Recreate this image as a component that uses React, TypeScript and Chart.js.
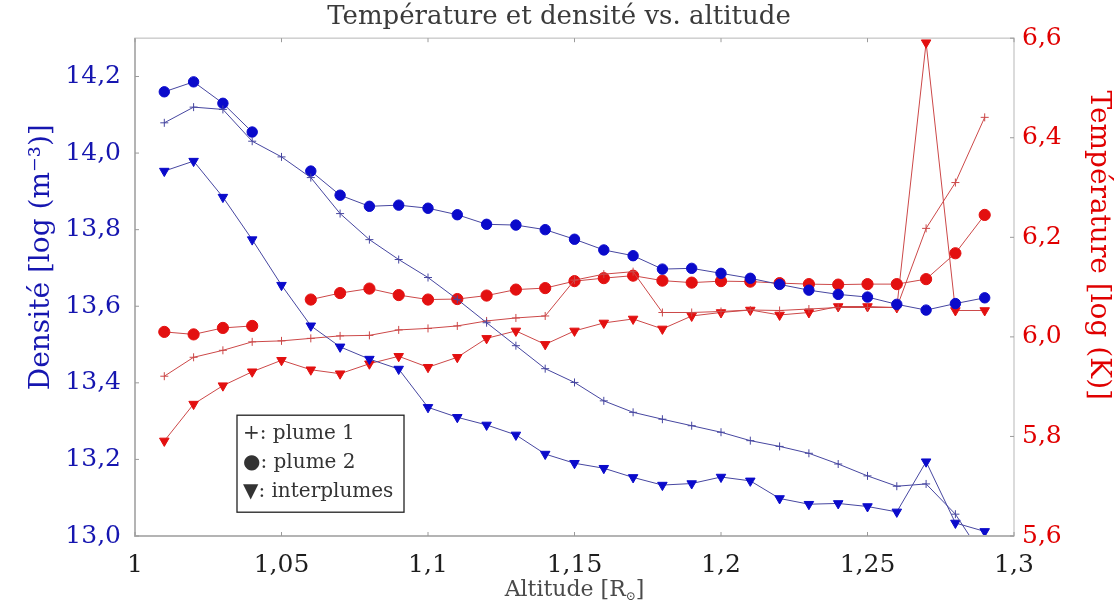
import React, { useEffect, useRef } from 'react';
import { Chart, registerables } from 'chart.js';

Chart.register(...registerables);

const altitudes = [
  1.01, 1.02, 1.03, 1.04, 1.05, 1.06, 1.07, 1.08, 1.09, 1.1,
  1.11, 1.12, 1.13, 1.14, 1.15, 1.16, 1.17, 1.18, 1.19, 1.2,
  1.21, 1.22, 1.23, 1.24, 1.25, 1.26, 1.27, 1.28, 1.29,
];

const densityPlume1 = [
  14.079, 14.12, 14.114, 14.031, 13.99, 13.936, 13.842, 13.774, 13.722, 13.675,
  13.618, 13.557, 13.497, 13.437, 13.401, 13.353, 13.323, 13.305, 13.288, 13.271,
  13.249, 13.234, 13.216, 13.188, 13.157, 13.13, 13.136, 13.057, 12.94,
];
const densityPlume2 = [
  14.16, 14.186, 14.13, 14.055, null, 13.953, 13.89, 13.861, 13.864, 13.856,
  13.839, 13.814, 13.812, 13.8, 13.775, 13.747, 13.732, 13.697, 13.699, 13.686,
  13.673, 13.657, 13.642, 13.631, 13.624, 13.605, 13.59, 13.607, 13.622,
];
const densityInterplumes = [
  13.953, 13.979, 13.885, 13.774, 13.655, 13.549, 13.494, 13.462, 13.436, 13.336,
  13.31, 13.29, 13.264, 13.214, 13.19, 13.177, 13.153, 13.133, 13.137, 13.154,
  13.144, 13.098, 13.083, 13.085, 13.077, 13.063, 13.194, 13.034, 13.012,
];

const tempPlume1 = [
  5.921, 5.959, 5.973, 5.99, 5.992, 5.997, 6.002, 6.003, 6.014, 6.017,
  6.022, 6.032, 6.038, 6.042, 6.114, 6.126, 6.131, 6.049, 6.049, 6.051,
  6.054, 6.053, 6.056, 6.059, 6.059, 6.059, 6.218, 6.31, 6.441,
];
const tempPlume2 = [
  6.01, 6.005, 6.018, 6.022, null, 6.075, 6.088, 6.097, 6.084, 6.075,
  6.076, 6.083, 6.095, 6.098, 6.112, 6.118, 6.123, 6.113, 6.109, 6.112,
  6.111, 6.108, 6.106, 6.105, 6.106, 6.106, 6.116, 6.168, 6.245,
];
const tempInterplumes = [
  5.791, 5.865, 5.902, 5.93, 5.953, 5.934, 5.926, 5.946, 5.961, 5.939,
  5.959, 5.997, 6.012, 5.985, 6.012, 6.028, 6.036, 6.016, 6.042, 6.049,
  6.054, 6.044, 6.049, 6.061, 6.061, 6.059, 6.591, 6.053, 6.053,
];

const xTickValues = [1, 1.05, 1.1, 1.15, 1.2, 1.25, 1.3];
const xTickLabels = ['1', '1,05', '1,1', '1,15', '1,2', '1,25', '1,3'];
const densityTickValues = [13.0, 13.2, 13.4, 13.6, 13.8, 14.0, 14.2];
const densityTickLabels = ['13,0', '13,2', '13,4', '13,6', '13,8', '14,0', '14,2'];
const tempTickValues = [5.6, 5.8, 6.0, 6.2, 6.4, 6.6];
const tempTickLabels = ['5,6', '5,8', '6,0', '6,2', '6,4', '6,6'];

const legendLines = ['+: plume 1', '\u25CF: plume 2', '\u25BC: interplumes'];

const chartTitle = 'Température et densité vs. altitude';
const densityTitle = 'Densité [log (m\u207B\u00B3)]';
const tempTitle = 'Température [log (K)]';
const altitudeTitle = 'Altitude [R';
const altitudeSub = '\u2299';

const SERIF = "'DejaVu Serif', serif";
const BLUE = '#0a0acb';
const BLUE_LINE = '#4646a0';
const RED = '#e31010';
const RED_LINE = '#cc4848';
const BLUE_TEXT = '#1616b0';
const RED_TEXT = '#e00000';

const toPoints = (ys: (number | null)[]) => altitudes.map((x, i) => ({ x, y: ys[i] }));

const framePlugin = {
  id: 'frameAndLegend',
  afterDraw(chart: any) {
    const { ctx, chartArea } = chart;
    const { left, right, top, bottom } = chartArea;
    ctx.save();
    // frame
    ctx.strokeStyle = '#cfcfcf';
    ctx.lineWidth = 1.5;
    ctx.strokeRect(left, top, right - left, bottom - top);
    ctx.strokeStyle = '#b4b4b4';
    ctx.lineWidth = 2;
    ctx.beginPath();
    ctx.moveTo(left, top);
    ctx.lineTo(left, bottom);
    ctx.lineTo(right, bottom);
    ctx.stroke();
    // inner tick marks
    ctx.strokeStyle = '#9a9a9a';
    ctx.lineWidth = 1;
    const xs = chart.scales.x;
    xs.ticks.forEach((t: any) => {
      const px = xs.getPixelForValue(t.value);
      ctx.beginPath();
      ctx.moveTo(px, bottom);
      ctx.lineTo(px, bottom - 4);
      ctx.moveTo(px, top);
      ctx.lineTo(px, top + 4);
      ctx.stroke();
    });
    const yl = chart.scales.y;
    yl.ticks.forEach((t: any) => {
      const py = yl.getPixelForValue(t.value);
      ctx.beginPath();
      ctx.moveTo(left, py);
      ctx.lineTo(left + 4, py);
      ctx.stroke();
    });
    const yr = chart.scales.y1;
    yr.ticks.forEach((t: any) => {
      const py = yr.getPixelForValue(t.value);
      ctx.beginPath();
      ctx.moveTo(right, py);
      ctx.lineTo(right - 4, py);
      ctx.stroke();
    });

    // y axis titles
    ctx.textAlign = 'center';
    ctx.textBaseline = 'middle';
    ctx.font = `28px ${SERIF}`;
    ctx.save();
    ctx.translate(left - 93, top + 219);
    ctx.rotate(-Math.PI / 2);
    ctx.fillStyle = BLUE_TEXT;
    ctx.fillText(densityTitle, 0, 0);
    ctx.restore();
    ctx.save();
    ctx.translate(right + 84, top + 207);
    ctx.rotate(Math.PI / 2);
    ctx.fillStyle = RED_TEXT;
    ctx.fillText(tempTitle, 0, 0);
    ctx.restore();

    // x axis title with subscript
    ctx.fillStyle = '#4a4a4a';
    ctx.textBaseline = 'alphabetic';
    ctx.textAlign = 'left';
    const end = ']';
    ctx.font = `22px ${SERIF}`;
    const wMain = ctx.measureText(altitudeTitle).width;
    const wEnd = ctx.measureText(end).width;
    ctx.font = `12px ${SERIF}`;
    const wSub = ctx.measureText(altitudeSub).width;
    const total = wMain + wSub + wEnd;
    const cx = (left + right) / 2;
    let tx = cx - total / 2;
    const base = 596;
    ctx.font = `22px ${SERIF}`;
    ctx.fillText(altitudeTitle, tx, base);
    tx += wMain;
    ctx.font = `12px ${SERIF}`;
    ctx.fillText(altitudeSub, tx, base + 4);
    tx += wSub;
    ctx.font = `22px ${SERIF}`;
    ctx.fillText(end, tx, base);

    // legend box
    const bx = left + 102;
    const by = top + 377;
    const bw = 167;
    const bh = 97;
    ctx.fillStyle = '#ffffff';
    ctx.fillRect(bx, by, bw, bh);
    ctx.strokeStyle = '#222222';
    ctx.lineWidth = 1.3;
    ctx.strokeRect(bx, by, bw, bh);
    ctx.fillStyle = '#333333';
    ctx.font = `20px ${SERIF}`;
    ctx.textBaseline = 'middle';
    legendLines.forEach((txt, i) => {
      ctx.fillText(txt, bx + 6, by + 19 + i * 29);
    });
    ctx.restore();
  },
};

export default function App() {
  const canvasRef = useRef<HTMLCanvasElement | null>(null);

  useEffect(() => {
    document.body.style.margin = '0';
    const canvas = canvasRef.current;
    if (!canvas) return;

    const common = { showLine: true, spanGaps: false, fill: false, tension: 0 };

    const chart = new Chart(canvas, {
      type: 'line',
      data: {
        datasets: [
          {
            ...common,
            label: 'Densité plume 1',
            data: toPoints(densityPlume1),
            yAxisID: 'y',
            borderColor: BLUE_LINE,
            borderWidth: 1,
            pointStyle: 'cross',
            pointRadius: 4,
            pointBorderColor: BLUE_LINE,
            pointBorderWidth: 1,
          },
          {
            ...common,
            label: 'Densité plume 2',
            data: toPoints(densityPlume2),
            yAxisID: 'y',
            borderColor: BLUE_LINE,
            borderWidth: 1,
            pointStyle: 'circle',
            pointRadius: 5.2,
            pointBackgroundColor: BLUE,
            pointBorderColor: BLUE,
            pointBorderWidth: 1,
          },
          {
            ...common,
            label: 'Densité interplumes',
            data: toPoints(densityInterplumes),
            yAxisID: 'y',
            borderColor: BLUE_LINE,
            borderWidth: 1,
            pointStyle: 'triangle',
            rotation: 180,
            pointRadius: 5.5,
            pointBackgroundColor: BLUE,
            pointBorderColor: BLUE,
            pointBorderWidth: 1,
          },
          {
            ...common,
            label: 'Température plume 1',
            data: toPoints(tempPlume1),
            yAxisID: 'y1',
            borderColor: RED_LINE,
            borderWidth: 1,
            pointStyle: 'cross',
            pointRadius: 4,
            pointBorderColor: RED_LINE,
            pointBorderWidth: 1,
          },
          {
            ...common,
            label: 'Température plume 2',
            data: toPoints(tempPlume2),
            yAxisID: 'y1',
            borderColor: RED_LINE,
            borderWidth: 1,
            pointStyle: 'circle',
            pointRadius: 5.6,
            pointBackgroundColor: RED,
            pointBorderColor: RED,
            pointBorderWidth: 1,
          },
          {
            ...common,
            label: 'Température interplumes',
            data: toPoints(tempInterplumes),
            yAxisID: 'y1',
            borderColor: RED_LINE,
            borderWidth: 1,
            pointStyle: 'triangle',
            rotation: 180,
            pointRadius: 5.5,
            pointBackgroundColor: RED,
            pointBorderColor: RED,
            pointBorderWidth: 1,
          },
        ],
      },
      options: {
        responsive: false,
        animation: false,
        layout: { padding: 0 },
        plugins: {
          legend: { display: false },
          tooltip: { enabled: false },
          title: {
            display: true,
            text: chartTitle,
            color: '#3a3a3a',
            font: { family: SERIF, size: 26, weight: 'normal' },
            padding: { top: 2, bottom: 5 },
          },
        },
        scales: {
          x: {
            type: 'linear',
            min: 1,
            max: 1.3,
            afterBuildTicks: (scale: any) => {
              scale.ticks = xTickValues.map((v) => ({ value: v }));
            },
            afterFit: (scale: any) => {
              scale.height = 65;
            },
            grid: { display: false, drawTicks: false },
            border: { display: false },
            ticks: {
              color: '#1e1e1e',
              font: { family: SERIF, size: 25 },
              padding: 14,
              maxRotation: 0,
              autoSkip: false,
              callback: (_v: any, i: number) => xTickLabels[i],
            },
            title: { display: false, text: 'Altitude [R\u2299]' },
          },
          y: {
            type: 'linear',
            position: 'left',
            min: 13.0,
            max: 14.3,
            afterBuildTicks: (scale: any) => {
              scale.ticks = densityTickValues.map((v) => ({ value: v }));
            },
            afterFit: (scale: any) => {
              scale.width = 135;
            },
            grid: { display: false, drawTicks: false },
            border: { display: false },
            ticks: {
              color: BLUE_TEXT,
              font: { family: SERIF, size: 25 },
              padding: 14,
              autoSkip: false,
              callback: (_v: any, i: number) => densityTickLabels[i],
            },
            title: { display: false, text: densityTitle },
          },
          y1: {
            type: 'linear',
            position: 'right',
            min: 5.6,
            max: 6.6,
            afterBuildTicks: (scale: any) => {
              scale.ticks = tempTickValues.map((v) => ({ value: v }));
            },
            afterFit: (scale: any) => {
              scale.width = 104;
            },
            grid: { display: false, drawTicks: false },
            border: { display: false },
            ticks: {
              color: RED_TEXT,
              font: { family: SERIF, size: 25 },
              padding: 8,
              autoSkip: false,
              callback: (_v: any, i: number) => tempTickLabels[i],
            },
            title: { display: false, text: tempTitle },
          },
        },
      },
      plugins: [framePlugin],
    } as any);

    return () => {
      chart.destroy();
    };
  }, []);

  return (
    <div style={{ width: 1118, height: 601 }}>
      <canvas ref={canvasRef} width={1118} height={601} style={{ display: 'block' }} />
    </div>
  );
}
